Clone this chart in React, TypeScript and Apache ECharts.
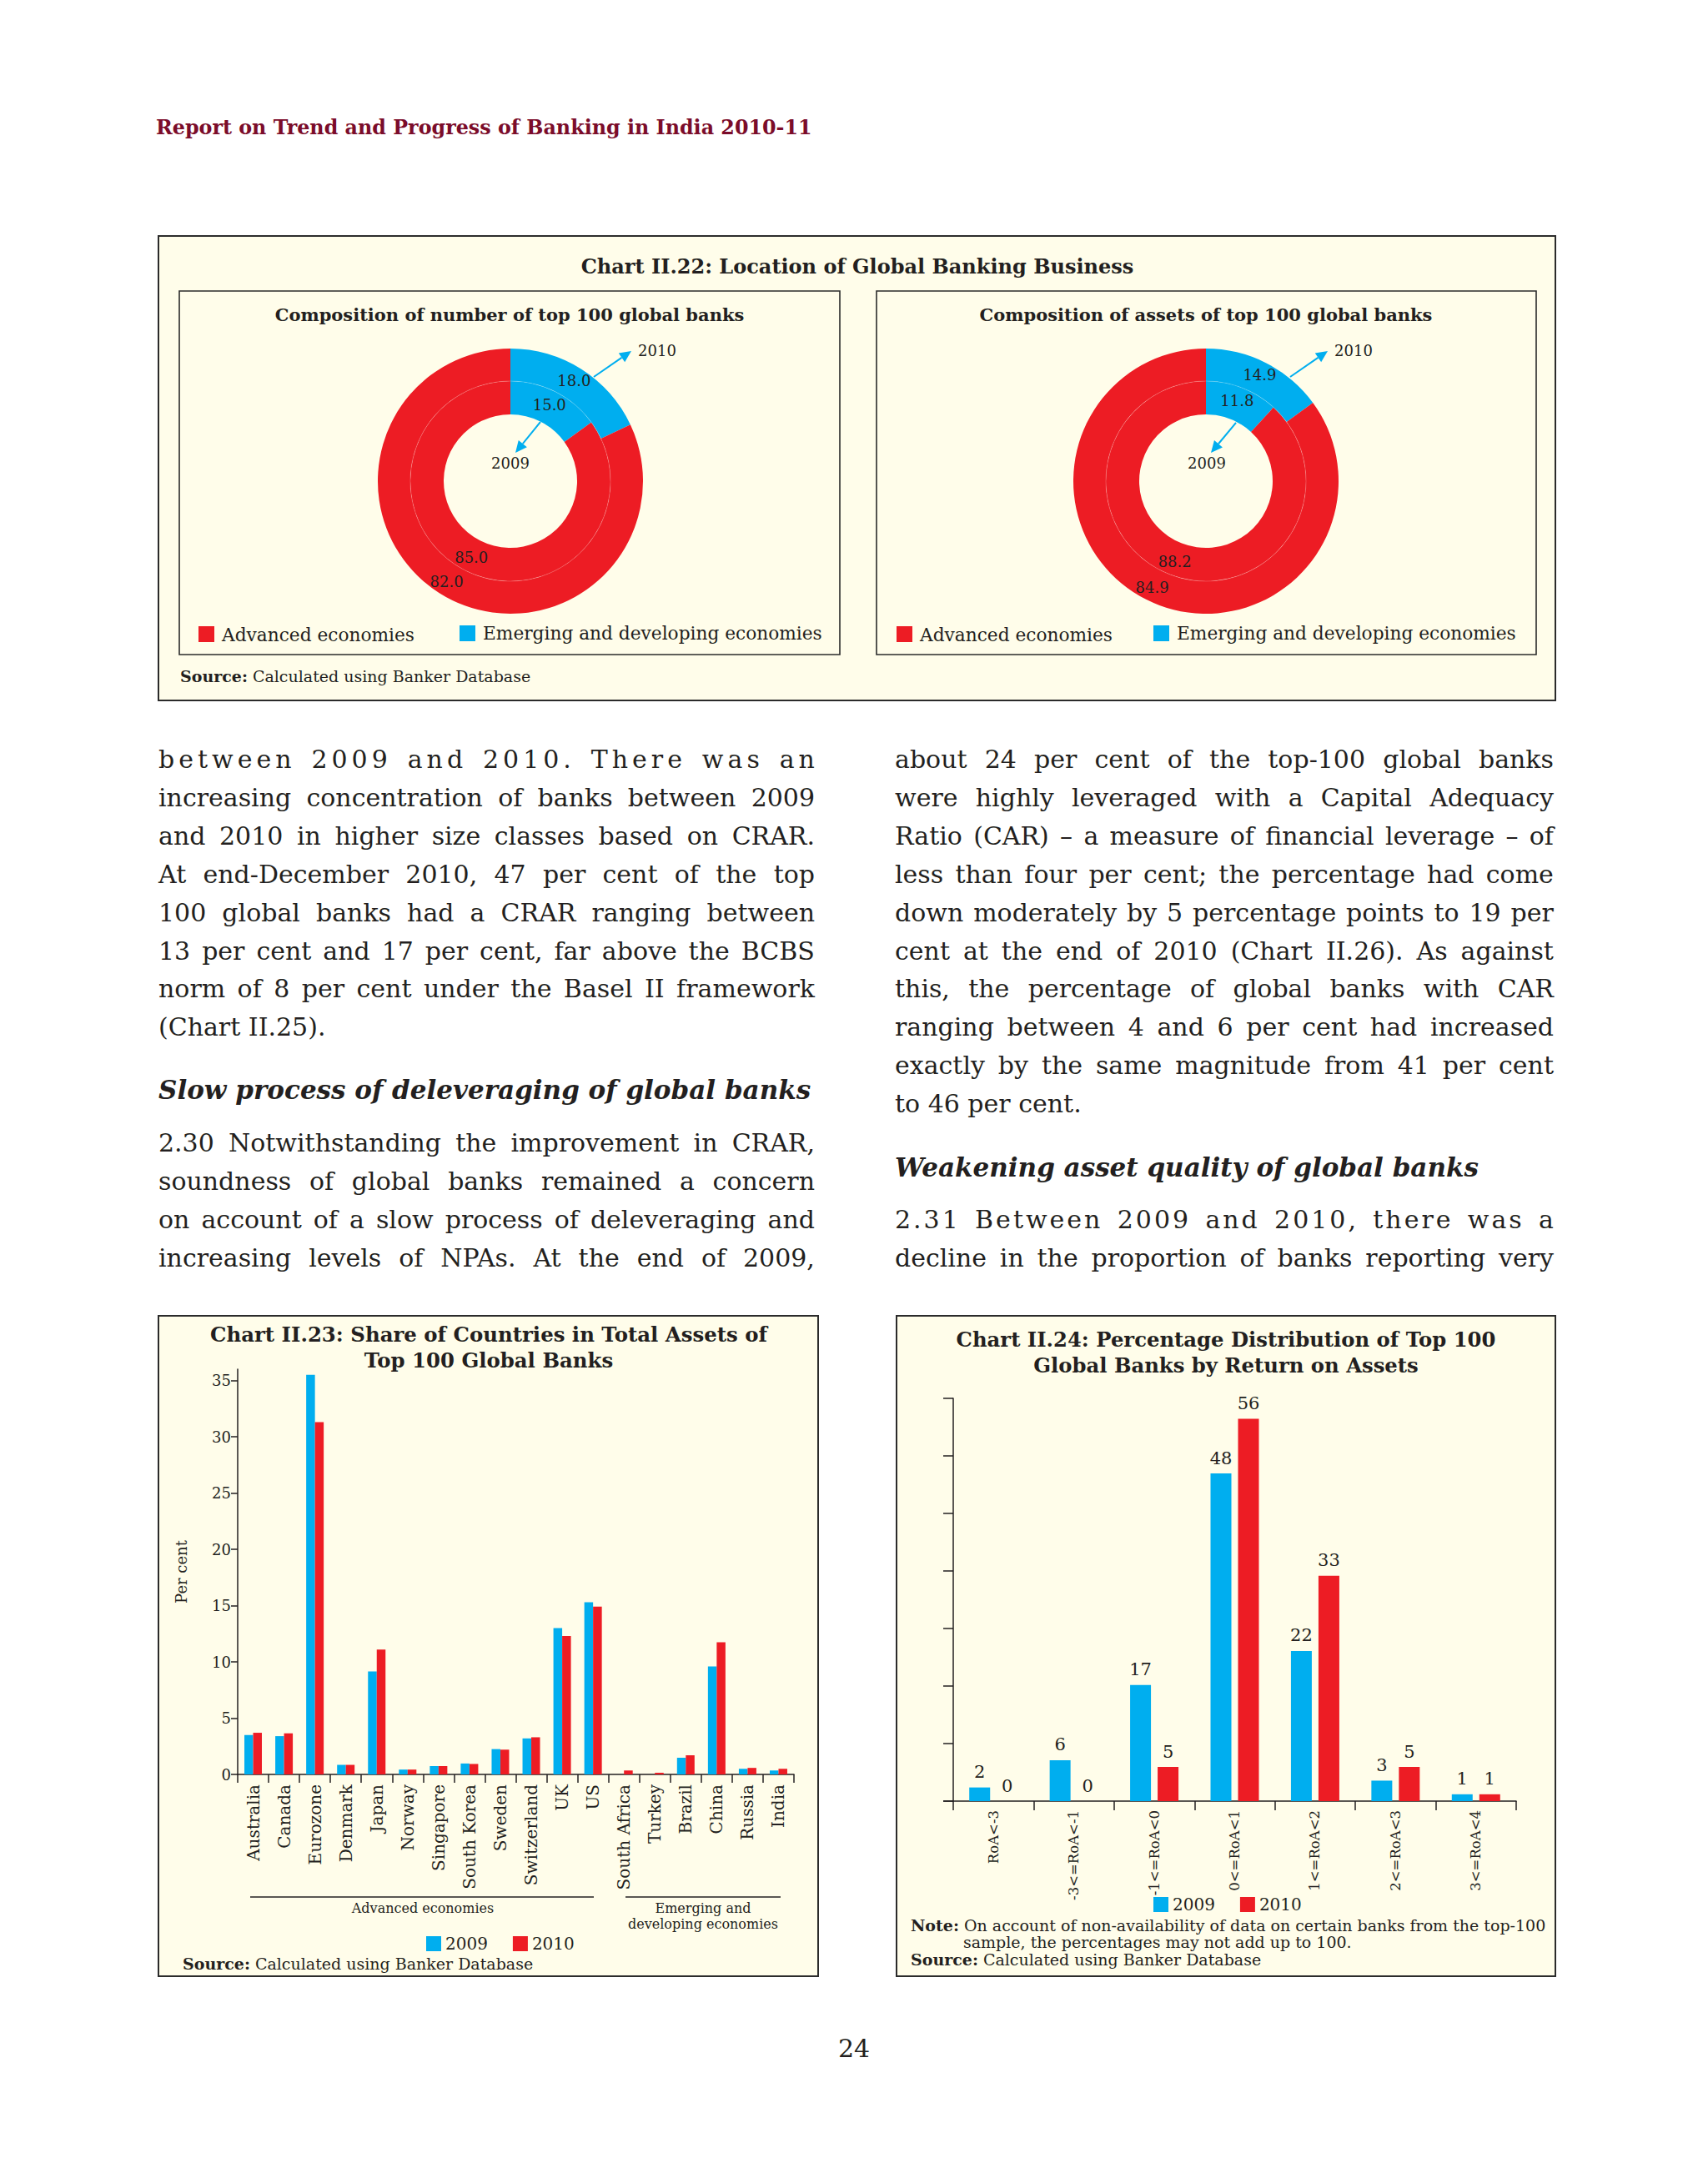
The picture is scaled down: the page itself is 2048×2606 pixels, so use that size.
import React, { useEffect, useRef } from 'react';
import * as echarts from 'echarts';

const SERIF = "'DejaVu Serif', serif";
const INK = '#231F20';
const BLUE = '#00AEEF';
const RED = '#ED1C24';
const CREAM = '#FFFDEA';

// ---- Chart II.22 data (share, per cent): [Emerging and developing, Advanced]
const groupNames = ['Emerging and developing economies', 'Advanced economies'];
const numberShare2009 = [15.0, 85.0];
const numberShare2010 = [18.0, 82.0];
const assetShare2009 = [11.8, 88.2];
const assetShare2010 = [14.9, 84.9];

// ---- Chart II.23 data
const countries = ['Australia', 'Canada', 'Eurozone', 'Denmark', 'Japan', 'Norway', 'Singapore', 'South Korea', 'Sweden', 'Switzerland', 'UK', 'US', 'South Africa', 'Turkey', 'Brazil', 'China', 'Russia', 'India'];
const countryShare2009 = [3.5, 3.4, 35.5, 0.85, 9.15, 0.43, 0.74, 0.97, 2.25, 3.2, 13.0, 15.3, 0, 0, 1.48, 9.6, 0.5, 0.35];
const countryShare2010 = [3.7, 3.65, 31.3, 0.85, 11.1, 0.43, 0.74, 0.93, 2.2, 3.3, 12.3, 14.9, 0.35, 0.15, 1.7, 11.75, 0.58, 0.5];
const shareTicks = [0, 5, 10, 15, 20, 25, 30, 35];

// ---- Chart II.24 data
const roaClasses = ['RoA<-3', '-3<=RoA<-1', '-1<=RoA<0', '0<=RoA<1', '1<=RoA<2', '2<=RoA<3', '3<=RoA<4'];
const roa2009 = [2, 6, 17, 48, 22, 3, 1];
const roa2010 = [0, 0, 5, 56, 33, 5, 1];
const roaMax = 59;
const roaTicks = [0, 1, 2, 3, 4, 5, 6, 7].map((i) => (i * roaMax) / 7);

const years = ['2009', '2010'];

// ---- Body text lines (t: text, j: justified, s: letter spacing)
const leftPara1 = [
  { t: 'between 2009 and 2010. There was an', j: true, s: 5 },
  { t: 'increasing concentration of banks between 2009', j: true },
  { t: 'and 2010 in higher size classes based on CRAR.', j: true },
  { t: 'At end-December 2010, 47 per cent of the top', j: true },
  { t: '100 global banks had a CRAR ranging between', j: true },
  { t: '13 per cent and 17 per cent, far above the BCBS', j: true },
  { t: 'norm of 8 per cent under the Basel II framework', j: true },
  { t: '(Chart II.25).', j: false },
];
const leftPara2 = [
  { t: '2.30  Notwithstanding the improvement in CRAR,', j: true },
  { t: 'soundness of global banks remained a concern', j: true },
  { t: 'on account of a slow process of deleveraging and', j: true },
  { t: 'increasing levels of NPAs. At the end of 2009,', j: true },
];
const rightPara1 = [
  { t: 'about 24 per cent of the top-100 global banks', j: true },
  { t: 'were highly leveraged with a Capital Adequacy', j: true },
  { t: 'Ratio (CAR) – a measure of financial leverage – of', j: true },
  { t: 'less than four per cent; the percentage had come', j: true },
  { t: 'down moderately by 5 percentage points to 19 per', j: true },
  { t: 'cent at the end of 2010 (Chart II.26). As against', j: true },
  { t: 'this, the percentage of global banks with CAR', j: true },
  { t: 'ranging between 4 and 6 per cent had increased', j: true },
  { t: 'exactly by the same magnitude from 41 per cent', j: true },
  { t: 'to 46 per cent.', j: false },
];
const rightPara2 = [
  { t: '2.31 Between 2009 and 2010, there was a', j: true, s: 3 },
  { t: 'decline in the proportion of banks reporting very', j: true },
];

function arrow(x1: number, y1: number, x2: number, y2: number) {
  const dx = x2 - x1;
  const dy = y2 - y1;
  const L = Math.hypot(dx, dy);
  const ux = dx / L;
  const uy = dy / L;
  const hl = 14;
  const hw = 6.5;
  const bx = x2 - ux * hl;
  const by = y2 - uy * hl;
  return [
    { type: 'line', z: 50, shape: { x1, y1, x2: bx, y2: by }, style: { stroke: BLUE, lineWidth: 2 } },
    {
      type: 'polygon',
      z: 50,
      shape: { points: [[x2, y2], [bx - uy * hw, by + ux * hw], [bx + uy * hw, by - ux * hw]] },
      style: { fill: BLUE },
    },
  ];
}

function txt(x: number, y: number, text: string, size: number, opts: any = {}) {
  const align = opts.align || 'left';
  return {
    type: 'text',
    z: 50,
    x,
    y,
    style: {
      text,
      fontSize: size,
      fontFamily: SERIF,
      fontWeight: opts.bold ? 'bold' : 'normal',
      fill: opts.color || INK,
      align,
      verticalAlign: 'middle',
      textAlign: align,
      textVerticalAlign: 'middle',
      rich: opts.rich,
    },
  };
}

function boldLead(size: number) {
  return {
    b: { fontSize: size, fontFamily: SERIF, fontWeight: 'bold', fill: INK, color: INK },
    n: { fontSize: size, fontFamily: SERIF, fontWeight: 'normal', fill: INK, color: INK },
  };
}

function rect(x: number, y: number, w: number, h: number, lw: number) {
  return { type: 'rect', z: -10, shape: { x, y, width: w, height: h }, style: { fill: CREAM, stroke: '#2B2B2B', lineWidth: lw } };
}

function donut(center: number[], radius: number[], values: number[]) {
  return {
    type: 'pie',
    center,
    radius,
    startAngle: 90,
    clockwise: true,
    silent: true,
    z: 5,
    label: {
      show: true,
      position: 'inside',
      formatter: (p: any) => Number(p.value).toFixed(1),
      fontSize: 18,
      fontFamily: SERIF,
      color: INK,
    },
    labelLine: { show: false },
    emphasis: { disabled: true },
    data: values.map((v, i) => ({ value: v, name: groupNames[i], itemStyle: { color: i === 0 ? BLUE : RED } })),
  };
}

function ringDivider(cx: number, cy: number) {
  return { type: 'circle', z: 20, shape: { cx, cy, r: 120 }, style: { fill: 'none', stroke: 'rgba(255,255,255,0.2)', lineWidth: 1 } };
}

function pieLegend(x0: number, xBlue: number) {
  return [
    { type: 'rect', z: 50, shape: { x: x0, y: 751, width: 19, height: 19 }, style: { fill: RED } },
    txt(x0 + 28, 761, 'Advanced economies', 21.7),
    { type: 'rect', z: 50, shape: { x: xBlue, y: 750, width: 19, height: 19 }, style: { fill: BLUE } },
    txt(xBlue + 28, 759, 'Emerging and developing economies', 21.7),
  ];
}

function buildOption() {
  const axisLineStyle = { color: INK, width: 1.5 };
  const graphics: any[] = [
    // boxes
    rect(190, 283, 1675, 557, 2),
    rect(215, 349, 792, 436, 1.6),
    rect(1051, 349, 791, 436, 1.6),
    rect(190, 1578, 791, 792, 2),
    rect(1075, 1578, 790, 792, 2),
    // header
    txt(187, 153, 'Report on Trend and Progress of Banking in India 2010-11', 23.8, { bold: true, color: '#7B0C2A' }),
    // Chart II.22
    txt(1028, 319, 'Chart II.22: Location of Global Banking Business', 24, { bold: true, align: 'center' }),
    txt(611, 377, 'Composition of number of top 100 global banks', 21, { bold: true, align: 'center' }),
    txt(1446, 377, 'Composition of assets of top 100 global banks', 21, { bold: true, align: 'center' }),
    ringDivider(612, 577),
    ringDivider(1446, 577),
    txt(788, 420, '2010', 18, { align: 'center' }),
    txt(612, 555, '2009', 18, { align: 'center' }),
    txt(1623, 420, '2010', 18, { align: 'center' }),
    txt(1447, 555, '2009', 18, { align: 'center' }),
    ...arrow(712, 452, 757, 421),
    ...arrow(648, 506, 618, 543),
    ...arrow(1547, 452, 1592, 421),
    ...arrow(1482, 507, 1452, 543),
    ...pieLegend(238, 551),
    ...pieLegend(1075, 1383),
    txt(216, 811, '{b|Source:}{n| Calculated using Banker Database}', 19, { rich: boldLead(19) }),
    // Chart II.23
    txt(586, 1600, 'Chart II.23: Share of Countries in Total Assets of', 24.4, { bold: true, align: 'center' }),
    txt(586, 1631, 'Top 100 Global Banks', 24.4, { bold: true, align: 'center' }),
    { type: 'line', z: 50, shape: { x1: 300, y1: 2275, x2: 712, y2: 2275 }, style: { stroke: INK, lineWidth: 1.5 } },
    { type: 'line', z: 50, shape: { x1: 750, y1: 2275, x2: 936, y2: 2275 }, style: { stroke: INK, lineWidth: 1.5 } },
    txt(507, 2288, 'Advanced economies', 16, { align: 'center' }),
    txt(843, 2288, 'Emerging and', 16, { align: 'center' }),
    txt(843, 2307, 'developing economies', 16, { align: 'center' }),
    txt(219, 2355, '{b|Source:}{n| Calculated using Banker Database}', 19, { rich: boldLead(19) }),
    // Chart II.24
    txt(1470, 1606, 'Chart II.24: Percentage Distribution of Top 100', 24.3, { bold: true, align: 'center' }),
    txt(1470, 1637, 'Global Banks by Return on Assets', 24.3, { bold: true, align: 'center' }),
    { type: 'line', z: 50, shape: { x1: 1131, y1: 2160, x2: 1143, y2: 2160 }, style: { stroke: INK, lineWidth: 1.5 } },
    txt(1092, 2309, '{b|Note:}{n| On account of non-availability of data on certain banks from the top-100}', 19, { rich: boldLead(19) }),
    txt(1155, 2329, 'sample, the percentages may not add up to 100.', 19),
    txt(1092, 2350, '{b|Source:}{n| Calculated using Banker Database}', 19, { rich: boldLead(19) }),
    // page number
    txt(1024, 2456, '24', 30, { align: 'center' }),
  ];

  const legendBase = {
    data: years,
    orient: 'horizontal',
    icon: 'rect',
    itemWidth: 18,
    itemHeight: 18,
    itemGap: 30,
    padding: 0,
    selectedMode: false,
    textStyle: { fontSize: 20, fontFamily: SERIF, color: INK },
  };

  return {
    animation: false,
    backgroundColor: '#FFFFFF',
    textStyle: { fontFamily: SERIF },
    graphic: { elements: graphics },
    legend: [
      { ...legendBase, left: 511, top: 2321 },
      { ...legendBase, left: 1383, top: 2274 },
    ],
    grid: [
      { left: 285, top: 1642, width: 667, height: 486 },
      { left: 1143, top: 1677, width: 675, height: 483 },
    ],
    xAxis: [
      {
        type: 'category',
        gridIndex: 0,
        data: countries,
        axisLine: { lineStyle: axisLineStyle },
        axisTick: { show: true, interval: 0, length: 10, lineStyle: axisLineStyle },
        axisLabel: { interval: 0, rotate: 90, fontSize: 20, fontFamily: SERIF, color: INK, margin: 12 },
        splitLine: { show: false },
      },
      {
        type: 'category',
        gridIndex: 1,
        data: roaClasses,
        axisLine: { lineStyle: axisLineStyle },
        axisTick: { show: true, interval: 0, length: 11, lineStyle: axisLineStyle },
        axisLabel: { interval: 0, rotate: 90, fontSize: 16.5, fontFamily: SERIF, color: INK, margin: 11 },
        splitLine: { show: false },
      },
    ],
    yAxis: [
      {
        type: 'value',
        gridIndex: 0,
        min: 0,
        max: 36,
        interval: 5,
        name: 'Per cent',
        nameLocation: 'middle',
        nameRotate: 90,
        nameGap: 59,
        nameTextStyle: { fontSize: 18, fontFamily: SERIF, color: INK },
        axisLine: { show: true, lineStyle: axisLineStyle },
        axisTick: { show: true, length: 8, lineStyle: axisLineStyle, customValues: shareTicks },
        axisLabel: {
          fontSize: 18,
          fontFamily: SERIF,
          color: INK,
          margin: 8,
          customValues: shareTicks,
          formatter: (v: number) => (v % 5 === 0 ? String(v) : ''),
        },
        splitLine: { show: false },
      },
      {
        type: 'value',
        gridIndex: 1,
        min: 0,
        max: roaMax,
        interval: roaMax / 7,
        axisLine: { show: true, lineStyle: axisLineStyle },
        axisTick: { show: true, length: 12, lineStyle: axisLineStyle, customValues: roaTicks },
        axisLabel: { show: false },
        splitLine: { show: false },
      },
    ],
    series: [
      donut([612, 577], [80, 120], numberShare2009),
      donut([612, 577], [120, 159], numberShare2010),
      donut([1446, 577], [80, 120], assetShare2009),
      donut([1446, 577], [120, 159], assetShare2010),
      {
        type: 'bar',
        name: years[0],
        xAxisIndex: 0,
        yAxisIndex: 0,
        data: countryShare2009,
        barWidth: 10.5,
        barGap: '0%',
        itemStyle: { color: BLUE },
        silent: true,
      },
      {
        type: 'bar',
        name: years[1],
        xAxisIndex: 0,
        yAxisIndex: 0,
        data: countryShare2010,
        barWidth: 10.5,
        barGap: '0%',
        itemStyle: { color: RED },
        silent: true,
      },
      {
        type: 'bar',
        name: years[0],
        xAxisIndex: 1,
        yAxisIndex: 1,
        data: roa2009,
        barWidth: 25,
        barGap: '32%',
        itemStyle: { color: BLUE },
        label: { show: true, position: 'top', distance: 8, fontSize: 21, fontFamily: SERIF, color: INK },
        silent: true,
      },
      {
        type: 'bar',
        name: years[1],
        xAxisIndex: 1,
        yAxisIndex: 1,
        data: roa2010,
        barWidth: 25,
        barGap: '32%',
        itemStyle: { color: RED },
        label: { show: true, position: 'top', distance: 8, fontSize: 21, fontFamily: SERIF, color: INK },
        silent: true,
      },
    ],
  };
}

const LINE_H = 46;
const BODY_SIZE = 30;

function TextLines({ lines, x, ys, w }: { lines: { t: string; j: boolean; s?: number }[]; x: number; ys: number[]; w: number }) {
  return (
    <>
      {lines.map((ln, i) => (
        <div
          key={i}
          style={{
            position: 'absolute',
            left: x,
            top: ys[i] - LINE_H / 2,
            width: w + (ln.s || 0),
            height: LINE_H,
            lineHeight: LINE_H + 'px',
            fontSize: BODY_SIZE,
            fontFamily: SERIF,
            color: INK,
            letterSpacing: (ln.s || 0) + 'px',
            display: 'flex',
            justifyContent: ln.j ? 'space-between' : 'flex-start',
            whiteSpace: 'pre',
          }}
        >
          {ln.j
            ? ln.t.split(/ +/).map((word, k) => (
                <span key={k} style={{ flexShrink: 0 }}>
                  {word}
                </span>
              ))
            : <span>{ln.t}</span>}
        </div>
      ))}
    </>
  );
}

function Heading({ text, x, y }: { text: string; x: number; y: number }) {
  return (
    <div
      style={{
        position: 'absolute',
        left: x,
        top: y - LINE_H / 2,
        height: LINE_H,
        lineHeight: LINE_H + 'px',
        fontSize: 31,
        fontFamily: SERIF,
        fontWeight: 'bold',
        fontStyle: 'italic',
        color: INK,
        whiteSpace: 'pre',
      }}
    >
      {text}
    </div>
  );
}

export default function App() {
  const ref = useRef<HTMLDivElement>(null);
  useEffect(() => {
    if (!ref.current) return;
    const chart = echarts.init(ref.current, undefined, { renderer: 'svg' });
    chart.setOption(buildOption() as any);
    return () => chart.dispose();
  }, []);

  const step = 45.9;
  const leftYs = leftPara1.map((_, i) => 911 + step * i);
  const rightYs = rightPara1.map((_, i) => 911 + step * i);
  const para2Ys = [1371, 1417, 1463, 1509];
  const rightPara2Ys = [1463, 1509];

  return (
    <div style={{ position: 'absolute', left: 0, top: 0, width: 2048, height: 2606, background: '#FFFFFF' }}>
      <div ref={ref} style={{ position: 'absolute', left: 0, top: 0, width: 2048, height: 2606 }} />
      <div style={{ position: 'absolute', left: 0, top: 0, width: 2048, height: 2606, pointerEvents: 'none' }}>
        <TextLines lines={leftPara1} x={190} ys={leftYs} w={787} />
        <Heading text="Slow process of deleveraging of global banks" x={190} y={1307} />
        <TextLines lines={leftPara2} x={190} ys={para2Ys} w={787} />
        <TextLines lines={rightPara1} x={1073} ys={rightYs} w={790} />
        <Heading text="Weakening asset quality of global banks" x={1073} y={1400} />
        <TextLines lines={rightPara2} x={1073} ys={rightPara2Ys} w={790} />
      </div>
    </div>
  );
}
